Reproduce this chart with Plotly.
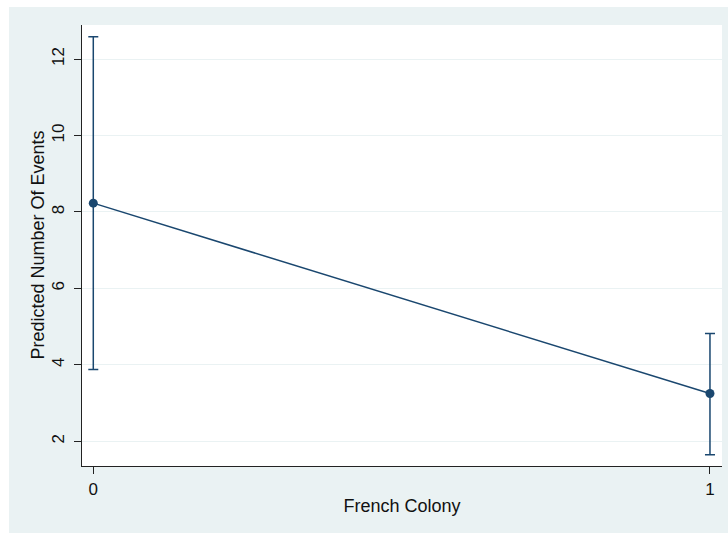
import plotly.graph_objects as go

categories = [0, 1]
predicted = [8.23, 3.25]
ci_upper = [12.58, 4.82]
ci_lower = [3.88, 1.65]
y_ticks = [2, 4, 6, 8, 10, 12]
x_ticks = [0, 1]

navy = "#1a476f"
bg = "#eaf2f3"

fig = go.Figure()
fig.add_trace(go.Scatter(
    x=categories, y=predicted, mode="lines+markers",
    line=dict(color=navy, width=1.5),
    marker=dict(color=navy, size=9),
    error_y=dict(type="data", symmetric=False,
                 array=[u - p for u, p in zip(ci_upper, predicted)],
                 arrayminus=[p - l for l, p in zip(ci_lower, predicted)],
                 color=navy, thickness=1.5, width=5),
    showlegend=False,
))

L, R, T, B = 82, 6, 25, 67
W, H = 728, 533
pw, ph = W - L - R, H - T - B
fig.add_shape(type="rect", xref="paper", yref="paper", layer="below",
              x0=(9 - L) / pw, x1=(W - L + 2) / pw,
              y0=-(B + 2) / ph, y1=(H - B - 7) / ph,
              fillcolor=bg, line=dict(width=0))
fig.add_shape(type="rect", xref="paper", yref="paper", layer="below",
              x0=0, x1=1, y0=0, y1=1, fillcolor="white", line=dict(width=0))

font = "Liberation Sans, Arial, Helvetica, sans-serif"
fig.add_annotation(text="Predicted Number Of Events", xref="paper", yref="paper",
                   x=(37 - L) / pw, y=0.5, textangle=-90, showarrow=False,
                   xanchor="center", yanchor="middle", font=dict(size=18, color="#111111"))
fig.update_layout(
    width=W, height=H,
    margin=dict(l=L, r=R, t=T, b=B),
    paper_bgcolor="white", plot_bgcolor="white",
    font=dict(family=font, color="#111111", size=17),
    xaxis=dict(range=[-0.0183, 1.0195], tickvals=x_ticks, ticktext=[str(v) for v in x_ticks],
               showgrid=False, zeroline=False, showline=True, linecolor="#222222", linewidth=1.2,
               ticks="outside", ticklen=7, tickcolor="#222222", tickfont=dict(size=17),
               title=dict(text="French Colony", font=dict(size=18), standoff=1)),
    yaxis=dict(range=[1.354, 12.89], tickvals=y_ticks, ticktext=[str(v) for v in y_ticks],
               showgrid=True, gridcolor=bg, gridwidth=1.2, zeroline=False,
               showline=True, linecolor="#222222", linewidth=1.2,
               ticks="outside", ticklen=7, tickcolor="#222222", tickangle=-90,
               tickfont=dict(size=17), ticklabelstandoff=3),
)

fig.write_html("out.html")
